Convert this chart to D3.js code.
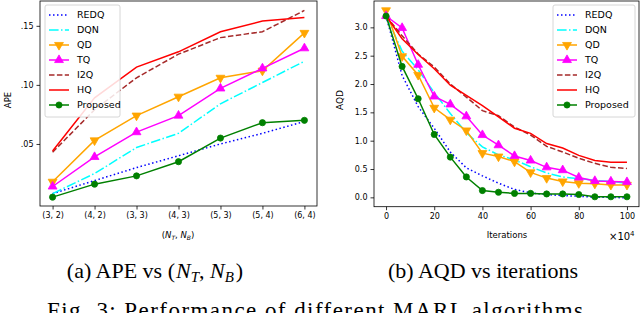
<!DOCTYPE html>
<html>
<head>
<meta charset="utf-8">
<script src="https://cdn.jsdelivr.net/npm/d3@7"></script>
<style>
  body { margin: 0; background: #fff; }
  svg { display: block; }
  .tick text { font-family: "DejaVu Sans", sans-serif; }
</style>
</head>
<body>
<div class="chart"></div>
<script>
// Size of the whole picture
var w = 640;
var h = 313;

// --- data, panel (a): APE vs (N_T, N_B)
const configs = ["(3, 2)", "(4, 2)", "(3, 3)", "(4, 3)", "(5, 3)", "(5, 4)", "(6, 4)"];
const apeREDQ     = [0.008, 0.019, 0.030, 0.040, 0.050, 0.059, 0.069];
const apeDQN      = [0.008, 0.025, 0.047, 0.059, 0.084, 0.102, 0.120];
const apeQD       = [0.018, 0.053, 0.074, 0.090, 0.106, 0.112, 0.144];
const apeTQ       = [0.014, 0.039, 0.060, 0.074, 0.097, 0.114, 0.131];
const apeI2Q      = [0.043, 0.079, 0.106, 0.126, 0.140, 0.145, 0.163];
const apeHQ       = [0.044, 0.089, 0.115, 0.128, 0.145, 0.154, 0.157];
const apeProposed = [0.005, 0.016, 0.023, 0.035, 0.055, 0.068, 0.070];
const apeTicks = [0.05, 0.10, 0.15];
const apeTickLabels = [".05", ".10", ".15"];

// --- data, panel (b): AQD vs iterations (x in units of 10^4)
const iters = [0, 6.67, 13.33, 20, 26.67, 33.33, 40, 46.67, 53.33, 60, 66.67, 73.33, 80, 86.67, 93.33, 100];
const aqdREDQ     = [3.20, 2.15, 1.60, 1.22, 0.80, 0.52, 0.38, 0.25, 0.14, 0.08, 0.05, 0.03, 0.02, 0.00, 0.00, -0.01];
const aqdDQN      = [3.20, 2.58, 2.25, 1.85, 1.48, 1.14, 0.89, 0.75, 0.66, 0.54, 0.43, 0.36, 0.33, 0.30, 0.28, 0.25];
const aqdQD       = [3.30, 2.49, 2.16, 1.58, 1.37, 1.18, 0.78, 0.72, 0.63, 0.44, 0.34, 0.28, 0.25, 0.24, 0.22, 0.22];
const aqdTQ       = [3.20, 2.99, 2.34, 1.78, 1.64, 1.43, 1.10, 0.92, 0.73, 0.65, 0.53, 0.48, 0.35, 0.29, 0.28, 0.27];
const aqdI2Q      = [3.20, 2.85, 2.53, 2.30, 2.00, 1.77, 1.53, 1.44, 1.24, 1.10, 0.90, 0.80, 0.69, 0.60, 0.53, 0.51];
const aqdHQ       = [3.20, 2.80, 2.52, 2.27, 1.98, 1.80, 1.62, 1.42, 1.22, 1.13, 0.95, 0.87, 0.74, 0.65, 0.62, 0.62];
const aqdProposed = [3.20, 2.31, 1.74, 1.11, 0.71, 0.36, 0.12, 0.09, 0.07, 0.07, 0.06, 0.06, 0.05, 0.01, 0.01, 0.01];
const iterTicks = [0, 20, 40, 60, 80, 100];
const aqdTicks = [0, 0.5, 1.0, 1.5, 2.0, 2.5, 3.0];

const names = ["REDQ", "DQN", "QD", "TQ", "I2Q", "HQ", "Proposed"];

// line styles, one per algorithm
const styles = {
  REDQ:     {color: "#0000ff", dash: "1.5,2.5", marker: null},
  DQN:      {color: "#00ffff", dash: "9.6,2.4,1.5,2.4", marker: null},
  QD:       {color: "#ffa500", dash: null, marker: "down"},
  TQ:       {color: "#ff00ff", dash: null, marker: "up"},
  I2Q:      {color: "#a52a2a", dash: "5.5,2.4", marker: null},
  HQ:       {color: "#ff0000", dash: null, marker: null},
  Proposed: {color: "#008000", dash: null, marker: "circle"}
};

var svg = d3.select(".chart")
  .append("svg")
  .attr("width", w)
  .attr("height", h);

const symbolFor = m => m === "circle" ? d3.symbolCircle : d3.symbolTriangle;

function drawMarker(g, m, x, y, color) {
  if (!m) return;
  const size = m === "circle" ? 30 : 34;
  g.append("path")
    .attr("d", d3.symbol().type(symbolFor(m)).size(size))
    .attr("transform", `translate(${x},${y})` + (m === "down" ? " rotate(180)" : ""))
    .attr("fill", color)
    .attr("stroke", color)
    .attr("stroke-width", 0.8);
}

function drawPanel(p) {
  const g = svg.append("g");

  // series
  p.series.forEach((vals, i) => {
    const st = styles[names[i]];
    const line = d3.line()
      .x((d, j) => p.x(p.xs[j]))
      .y(d => p.y(d));
    g.append("path")
      .datum(vals)
      .attr("fill", "none")
      .attr("stroke", st.color)
      .attr("stroke-width", 1.5)
      .attr("stroke-dasharray", st.dash)
      .attr("d", line);
    vals.forEach((d, j) => drawMarker(g, st.marker, p.x(p.xs[j]), p.y(d), st.color));
  });

  // frame
  const [x0, x1] = p.x.range();
  const [y0, y1] = p.y.range();
  g.append("rect")
    .attr("x", x0).attr("y", y1)
    .attr("width", x1 - x0).attr("height", y0 - y1)
    .attr("fill", "none").attr("stroke", "#000").attr("stroke-width", 0.8);

  // axes
  const ax = g.append("g")
    .attr("transform", `translate(0,${y0})`)
    .call(p.xAxis);
  const ay = g.append("g")
    .attr("transform", `translate(${x0},0)`)
    .call(p.yAxis);
  [ax, ay].forEach(a => {
    a.select(".domain").remove();
    a.selectAll(".tick line").attr("stroke", "#000").attr("stroke-width", 0.8);
    a.selectAll(".tick text").attr("font-size", 8).attr("fill", "#000");
  });

  // legend
  const lg = g.append("g").attr("transform", `translate(${p.legend[0]},${p.legend[1]})`);
  lg.append("rect")
    .attr("width", p.legend[2]).attr("height", 112)
    .attr("rx", 2)
    .attr("fill", "#fff").attr("fill-opacity", 0.85)
    .attr("stroke", "#ccc").attr("stroke-width", 0.8);
  names.forEach((n, i) => {
    const st = styles[n];
    const yy = 10 + i * 15;
    lg.append("line")
      .attr("x1", 4).attr("x2", 24)
      .attr("y1", yy).attr("y2", yy)
      .attr("stroke", st.color)
      .attr("stroke-width", 1.5)
      .attr("stroke-dasharray", st.dash);
    drawMarker(lg, st.marker, 14, yy, st.color);
    lg.append("text")
      .attr("x", 32).attr("y", yy + 3.4)
      .attr("font-family", "DejaVu Sans")
      .attr("font-size", 9.5)
      .text(n);
  });
  return g;
}

// panel (a)
const xA = d3.scaleLinear().domain([-0.3, 6.3]).range([40, 317]);
const yA = d3.scaleLinear().domain([-0.0025, 0.171]).range([206, 1]);
drawPanel({
  x: xA, y: yA,
  xs: configs.map((c, i) => i),
  series: [apeREDQ, apeDQN, apeQD, apeTQ, apeI2Q, apeHQ, apeProposed],
  xAxis: d3.axisBottom(xA).tickValues(configs.map((c, i) => i))
    .tickFormat(i => configs[i]).tickSize(3.5).tickPadding(3),
  yAxis: d3.axisLeft(yA).tickValues(apeTicks)
    .tickFormat((d, i) => apeTickLabels[i]).tickSize(3.5).tickPadding(3),
  legend: [45, 5, 75]
});

// panel (b)
const xB = d3.scaleLinear().domain([-5, 105]).range([374, 639]);
const yB = d3.scaleLinear().domain([-0.165, 3.465]).range([206.7, 1]);
drawPanel({
  x: xB, y: yB,
  xs: iters,
  series: [aqdREDQ, aqdDQN, aqdQD, aqdTQ, aqdI2Q, aqdHQ, aqdProposed],
  xAxis: d3.axisBottom(xB).tickValues(iterTicks).tickFormat(d3.format("d")).tickSize(3.5).tickPadding(3),
  yAxis: d3.axisLeft(yB).tickValues(aqdTicks).tickFormat(d3.format(".1f")).tickSize(3.5).tickPadding(3),
  legend: [553, 5, 82]
});

// axis labels
svg.append("text")
  .attr("transform", "translate(11,100) rotate(-90)")
  .attr("text-anchor", "middle")
  .attr("font-family", "DejaVu Sans").attr("font-size", 8.5)
  .text("APE");
svg.append("text")
  .attr("transform", "translate(343,100) rotate(-90)")
  .attr("text-anchor", "middle")
  .attr("font-family", "DejaVu Sans").attr("font-size", 9)
  .text("AQD");

const xl = svg.append("text")
  .attr("x", 178).attr("y", 238)
  .attr("text-anchor", "middle")
  .attr("font-family", "DejaVu Sans").attr("font-size", 8.5);
xl.append("tspan").text("(");
xl.append("tspan").attr("font-style", "italic").text("N");
xl.append("tspan").attr("font-size", 6).attr("font-style", "italic").attr("dy", 2).text("T");
xl.append("tspan").attr("dy", -2).text(", ");
xl.append("tspan").attr("font-style", "italic").text("N");
xl.append("tspan").attr("font-size", 6).attr("font-style", "italic").attr("dy", 2).text("B");
xl.append("tspan").attr("dy", -2).text(")");

svg.append("text")
  .attr("x", 507).attr("y", 238)
  .attr("text-anchor", "middle")
  .attr("font-family", "DejaVu Sans").attr("font-size", 8.5)
  .text("Iterations");

const ex = svg.append("text")
  .attr("x", 609).attr("y", 240)
  .attr("font-family", "DejaVu Sans").attr("font-size", 10);
ex.append("tspan").text("×10");
ex.append("tspan").attr("font-size", 7).attr("dy", -4).text("4");

// captions
const capA = svg.append("text")
  .attr("x", 155).attr("y", 278)
  .attr("text-anchor", "middle")
  .attr("font-family", "Liberation Serif").attr("font-size", 22);
capA.append("tspan").text("(a) APE vs (");
capA.append("tspan").attr("font-style", "italic").attr("dx", 1).text("N");
capA.append("tspan").attr("font-style", "italic").attr("font-size", 15).attr("dy", 4).text("T");
capA.append("tspan").attr("dy", -4).text(", ");
capA.append("tspan").attr("font-style", "italic").text("N");
capA.append("tspan").attr("font-style", "italic").attr("font-size", 15).attr("dy", 4).text("B");
capA.append("tspan").attr("dy", -4).attr("dx", 2).text(")");

svg.append("text")
  .attr("x", 483).attr("y", 278)
  .attr("text-anchor", "middle")
  .attr("font-family", "Liberation Serif").attr("font-size", 22)
  .text("(b) AQD vs iterations");

svg.append("text")
  .attr("x", 47).attr("y", 318)
  .attr("font-family", "Liberation Serif").attr("font-size", 23)
  .attr("textLength", 536).attr("lengthAdjust", "spacing")
  .text("Fig. 3: Performance of different MARL algorithms");
</script>
</body>
</html>
